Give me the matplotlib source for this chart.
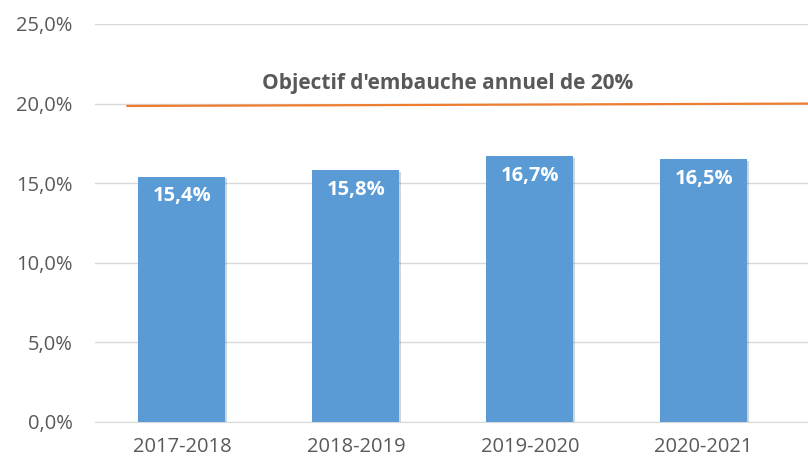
import matplotlib
matplotlib.use("Agg")
import matplotlib.pyplot as plt
import matplotlib.patheffects as pe
from matplotlib.ticker import FuncFormatter

years = ["2017-2018", "2018-2019", "2019-2020", "2020-2021"]
taux = [15.4, 15.8, 16.7, 16.5]
objectif_x = [-0.32, 3.6]
objectif_y = [19.85, 20.0]
titre = "Objectif d'embauche annuel de 20%"

plt.rcParams['font.family'] = ['Open Sans', 'DejaVu Sans']
gris = "#595959"

fig = plt.figure(figsize=(8.08, 4.63), dpi=100)
ax = fig.add_axes([0.1176, 0.0886, 0.8824, 0.8596])

x = range(len(years))
bars = ax.bar(x, taux, width=0.5, color="#5B9BD5", zorder=3)
for b in bars:
    b.set_path_effects([pe.SimplePatchShadow(offset=(1, -1), alpha=0.2), pe.Normal()])

for xi, v in zip(x, taux):
    ax.annotate(f"{v:.1f}%".replace(".", ","), (xi, v), xytext=(0, -14),
                textcoords="offset points", ha="center", va="center",
                color="white", fontsize=14.5, fontweight="bold", zorder=4)

ax.plot(objectif_x, objectif_y, color="#ED7D31", lw=1.6, zorder=4, solid_capstyle="butt")
ax.text(1.53, 21.25, titre, ha="center", va="center", fontsize=15,
        fontweight="bold", color=gris)

ax.set_ylim(0, 25)
ax.set_xlim(-0.5, 3.6)
ax.set_yticks([0, 5, 10, 15, 20, 25])
ax.yaxis.set_major_formatter(FuncFormatter(lambda v, p: f"{v:.1f}%".replace(".", ",")))
ax.set_xticks(list(x))
ax.set_xticklabels(years)
ax.grid(axis="y", color="#D9D9D9", lw=1, zorder=0)
for s in ["top", "right", "left"]:
    ax.spines[s].set_visible(False)
ax.spines["bottom"].set_color("#D9D9D9")
ax.tick_params(axis="both", length=0, colors=gris, labelsize=14.5)
ax.tick_params(axis="y", pad=16)
ax.tick_params(axis="x", pad=11)

fig.savefig("out.png", dpi=100)
